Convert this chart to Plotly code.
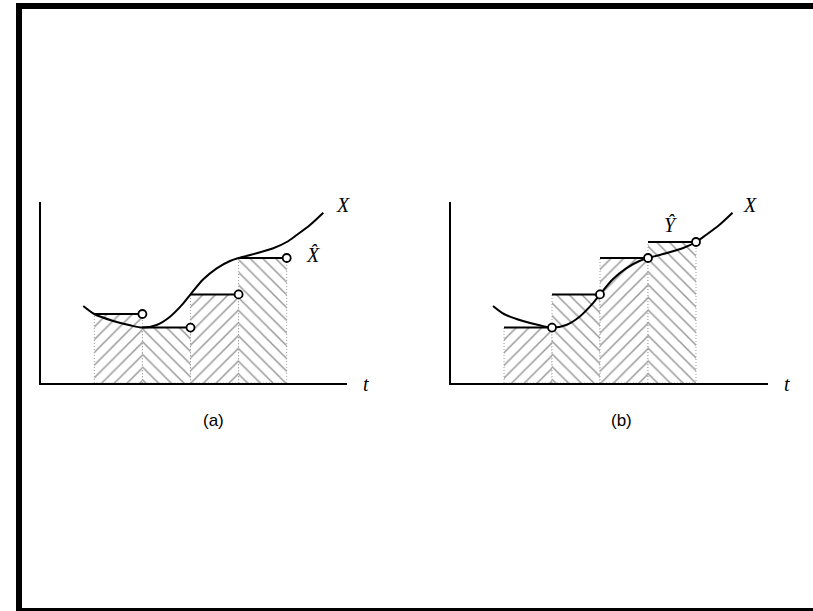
import plotly.graph_objects as go

W, H = 813, 611

# Continuous signal X(t); t measured in sampling periods, X in arbitrary units
curve_t = [0.771, 1.0, 1.395, 1.742, 2.0, 2.297, 2.574, 2.850, 3.0, 3.266,
           3.545, 3.821, 4.0, 4.376, 4.721, 5.0, 5.208, 5.484, 5.761]
curve_x = [3.85, 3.45, 3.10, 2.885, 2.77, 2.90, 3.315, 3.98, 4.43, 5.185,
           5.735, 6.10, 6.25, 6.485, 6.735, 7.05, 7.40, 7.90, 8.515]

# Sampling instants and the signal value at each of them
sample_t = [1, 2, 3, 4, 5]
sample_x = [3.45, 2.77, 4.43, 6.25, 7.05]

panel_names = ["(a)", "(b)"]

# Pixel placement of each panel's plot area: (left, right, top, bottom)
panel_box = [(41, 347, 202, 383), (451, 768, 202, 383)]
# Pixel position of the first sample and the sample period in pixels
panel_t0 = [(94.3, 48.1), (504.0, 48.0)]
Y_PX = 20.0  # pixels per unit of X

HATCH = "#333333"
fig = go.Figure()

for p in range(2):
    xa = "x" if p == 0 else "x2"
    ya = "y" if p == 0 else "y2"
    n = len(sample_t)
    # zero-order hold: (a) holds the left sample, (b) holds the right one
    held = [sample_x[k] if p == 0 else sample_x[k + 1] for k in range(n - 1)]

    # hatched areas under each held value, herringbone by alternating direction
    for k in range(n - 1):
        t0, t1, h = sample_t[k], sample_t[k + 1], held[k]
        fig.add_trace(go.Scatter(
            x=[t0, t0, t1, t1, t0], y=[0, h, h, 0, 0],
            xaxis=xa, yaxis=ya, mode="lines", fill="toself",
            fillcolor="white",
            fillpattern=dict(shape="/" if k % 2 == 0 else "\\", fgcolor=HATCH,
                             bgcolor="white", size=9, solidity=0.17),
            line=dict(color="#a0a0a0", width=1, dash="1px,2px"),
            hoverinfo="skip", showlegend=False))

    # held-value segments
    for k in range(n - 1):
        fig.add_trace(go.Scatter(
            x=[sample_t[k], sample_t[k + 1]], y=[held[k], held[k]],
            xaxis=xa, yaxis=ya, mode="lines",
            line=dict(color="black", width=2),
            hoverinfo="skip", showlegend=False))

    # the continuous signal
    fig.add_trace(go.Scatter(
        x=curve_t, y=curve_x, xaxis=xa, yaxis=ya, mode="lines",
        line=dict(color="black", width=2, shape="spline", smoothing=0.8),
        hoverinfo="skip", showlegend=False))

    # open circles at the right end of each held segment
    fig.add_trace(go.Scatter(
        x=sample_t[1:], y=held, xaxis=xa, yaxis=ya, mode="markers",
        marker=dict(symbol="circle", size=8, color="white",
                    line=dict(color="black", width=1.8)),
        hoverinfo="skip", showlegend=False))


def axis_layout(p):
    left, right, top, bottom = panel_box[p]
    tpx, per = panel_t0[p]
    xr = [1 + (left - tpx) / per, 1 + (right - tpx) / per]
    yr = [0, (bottom - top) / Y_PX]
    common = dict(showline=True, linecolor="black", linewidth=2, showgrid=False,
                  zeroline=False, showticklabels=False, ticks="", fixedrange=True)
    xax = dict(domain=[left / W, right / W], range=xr, **common)
    yax = dict(domain=[1 - bottom / H, 1 - top / H], range=yr, **common)
    return xax, yax


xa1, ya1 = axis_layout(0)
xa2, ya2 = axis_layout(1)
ya1["anchor"] = "x"
xa1["anchor"] = "y"
xa2["anchor"] = "y2"
ya2["anchor"] = "x2"


def px(x):
    return x / W


def py(y):
    return 1 - y / H


serif = "Times New Roman, Liberation Serif, serif"
sans = "Arial, Liberation Sans, sans-serif"

annotations = []


def label(text, x, y, family, size):
    annotations.append(dict(text=text, x=px(x), y=py(y), xref="paper", yref="paper",
                            showarrow=False, xanchor="center", yanchor="middle",
                            font=dict(family=family, size=size, color="black")))


label("<i>X</i>", 343, 205, serif, 20)
label("<i>X\u0302</i>", 313, 255, serif, 20)
label("<i>t</i>", 366, 384, serif, 20)
label("<i>X</i>", 750, 205, serif, 20)
label("<i>Y\u0302</i>", 670, 225, serif, 20)
label("<i>t</i>", 787, 384, serif, 20)
label(panel_names[0], 213, 420, sans, 17)
label(panel_names[1], 621, 420, sans, 17)

# page frame: thick left rule, top rule and thin bottom rule, open on the right
frame = [(16, 22, 3, 611), (16, 813, 3, 9), (16, 813, 608, 611)]
shapes = [dict(type="rect", xref="paper", yref="paper",
               x0=px(a), x1=px(b), y0=py(d), y1=py(c),
               fillcolor="black", line=dict(width=0, color="rgba(0,0,0,0)"))
          for a, b, c, d in frame]

fig.update_layout(
    width=W, height=H, margin=dict(l=0, r=0, t=0, b=0),
    paper_bgcolor="white", plot_bgcolor="rgba(0,0,0,0)",
    xaxis=xa1, yaxis=ya1, xaxis2=xa2, yaxis2=ya2,
    annotations=annotations, shapes=shapes, showlegend=False,
)

fig.write_html("out.html", config={"displayModeBar": False})
